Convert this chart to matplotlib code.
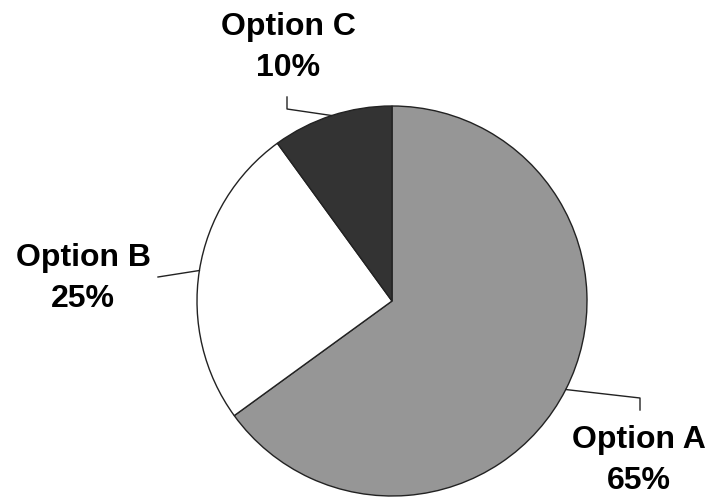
import numpy as np
import matplotlib
matplotlib.use("Agg")
import matplotlib.pyplot as plt

labels = ["Option A", "Option B", "Option C"]
shares = [65, 25, 10]
colors = ["#969696", "#ffffff", "#333333"]

W, H = 715, 504
fig = plt.figure(figsize=(W / 100, H / 100), dpi=100)
ax = fig.add_axes([0, 0, 1, 1])

cx, cy, r = 392, H - 301, 195
wedges, _ = ax.pie(shares, colors=colors, startangle=90, counterclock=False,
                   center=(cx, cy), radius=r, frame=True,
                   wedgeprops=dict(edgecolor="#222222", linewidth=1.0))
ax.set_xlim(0, W)
ax.set_ylim(0, H)
ax.set_aspect("equal")
ax.axis("off")

# label anchors: elbow point, end point and text centre (pixel coords from top)
anchors = [((640, 398), (640, 410), (639, 440)),
           ((158, 277), None, (83, 258)),
           ((287, 109), (287, 97), (288, 27))]

font = dict(fontsize=23, fontweight="bold", family="Liberation Sans",
            ha="center", va="center", color="black")

for w, lab, val, (elbow, end, txt) in zip(wedges, labels, shares, anchors):
    mid = np.deg2rad((w.theta1 + w.theta2) / 2)
    sx, sy = cx + r * np.cos(mid), cy + r * np.sin(mid)
    xs = [sx, elbow[0]]
    ys = [sy, H - elbow[1]]
    if end is not None:
        xs.append(end[0])
        ys.append(H - end[1])
    ax.plot(xs, ys, color="#222222", lw=1.0)
    ax.text(txt[0], H - txt[1], lab, **font)
    ax.text(txt[0], H - txt[1] - 41, f"{val}%", **font)

fig.savefig("out.png", dpi=100, facecolor="white")
